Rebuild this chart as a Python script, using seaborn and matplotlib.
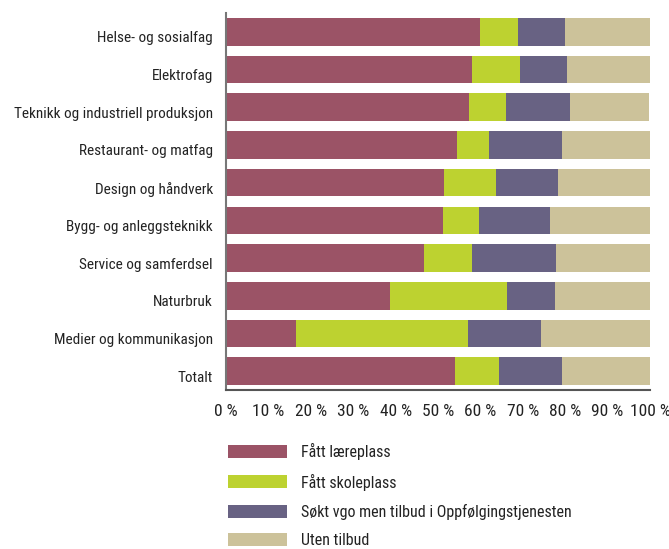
import re
import matplotlib
matplotlib.use("Agg")
import matplotlib.pyplot as plt
from matplotlib import font_manager as fm
from matplotlib import transforms
from matplotlib.patches import Patch
import numpy as np
import pandas as pd
import seaborn as sns

categories = [
    "Helse- og sosialfag",
    "Elektrofag",
    "Teknikk og industriell produksjon",
    "Restaurant- og matfag",
    "Design og håndverk",
    "Bygg- og anleggsteknikk",
    "Service og samferdsel",
    "Naturbruk",
    "Medier og kommunikasjon",
    "Totalt",
]
series = [
    "Fått læreplass",
    "Fått skoleplass",
    "Søkt vgo men tilbud i Oppfølgingstjenesten",
    "Uten tilbud",
]
laereplass = [59.9, 58.0, 57.3, 54.5, 51.4, 51.2, 46.7, 38.7, 16.5, 54.0]
skoleplass = [9.0, 11.3, 8.7, 7.5, 12.3, 8.5, 11.3, 27.6, 40.6, 10.4]
oppfolging = [11.1, 11.1, 15.1, 17.2, 14.6, 16.7, 19.8, 11.3, 17.2, 14.8]
uten_tilbud = [20.0, 19.6, 18.7, 20.8, 21.7, 23.6, 22.2, 22.4, 25.7, 20.8]
tick_labels = ["0 %", "10 %", "20 %", "30 %", "40 %", "50 %",
               "60 %", "70 %", "80 %", "90 %", "100 %"]

colors = ["#9b5366", "#bdd230", "#686283", "#ccc29a"]


def narrow_font():
    """Pick a condensed sans-serif face if one is installed."""
    patterns = [
        r"LiberationSansNarrow-Regular",
        r"RobotoCondensed-Regular",
        r"OpenSans[_-]?Condensed.*(Regular|Medium)",
        r"DejaVuSansCondensed\.ttf",
        r"NotoSans-?Condensed(-Regular)?\.",
        r"Condensed-Regular",
        r"Narrow-Regular",
    ]
    files = [f.fname for f in fm.fontManager.ttflist]
    files += fm.findSystemFonts()
    for pat in patterns:
        for path in files:
            if re.search(pat, path.split("/")[-1], re.I):
                return path
    return None


path = narrow_font()
sns.set_theme(style="white")
plt.rcParams["font.family"] = ["DejaVu Sans"]
if path:
    fp_y = fm.FontProperties(fname=path, size=11)
    fp_x = fm.FontProperties(fname=path, size=12.5)
    fp_leg = fm.FontProperties(fname=path, size=11.5)
else:
    fp_y = fm.FontProperties(family="DejaVu Sans", size=9.5)
    fp_x = fm.FontProperties(family="DejaVu Sans", size=10)
    fp_leg = fm.FontProperties(family="DejaVu Sans", size=10)

df = pd.DataFrame({
    "kategori": categories,
    series[0]: laereplass,
    series[1]: skoleplass,
    series[2]: oppfolging,
    series[3]: uten_tilbud,
})
cum = df[series].cumsum(axis=1)

fig = plt.figure(figsize=(6.69, 5.49), dpi=100)
ax = fig.add_axes([226 / 669, 1 - 390 / 549, 424 / 669, 377 / 549])

# stacked bars: draw the cumulative totals from the outermost segment inwards
for name, color in reversed(list(zip(series, colors))):
    sns.barplot(x=cum[name], y=df["kategori"], color=color, orient="h",
                width=0.73, saturation=1, ax=ax, linewidth=0)

ax.set_xlim(0, 100)
ax.set_ylim(9.5, -0.5)
ax.set_xticks(np.arange(0, 101, 10))
ax.set_xticklabels(tick_labels)
ax.tick_params(axis="y", length=0, pad=9.5)
ax.tick_params(axis="x", length=0, pad=10)
for lab in ax.get_xticklabels():
    lab.set_fontproperties(fp_x)
    lab.set_color("#222222")
shift_down = transforms.ScaledTranslation(0, -5 / 100, fig.dpi_scale_trans)
for lab in ax.get_yticklabels():
    lab.set_fontproperties(fp_y)
    lab.set_color("#222222")
    lab.set_transform(lab.get_transform() + shift_down)
ax.set_xlabel("")
ax.set_ylabel("")
for side in ["top", "right"]:
    ax.spines[side].set_visible(False)
ax.spines["left"].set_color("#777777")
ax.spines["left"].set_linewidth(1.5)
ax.spines["bottom"].set_color("#555555")
ax.spines["bottom"].set_linewidth(1.5)

handles = [Patch(facecolor=c, edgecolor="none", label=s) for s, c in zip(series, colors)]
leg = fig.legend(handles=handles, loc="upper left",
                 bbox_to_anchor=(222 / 669, 1 - 437 / 549),
                 frameon=False, prop=fp_leg,
                 handlelength=3.7, handleheight=0.875,
                 labelspacing=0.82, handletextpad=0.85, borderaxespad=0)
for t in leg.get_texts():
    t.set_color("#222222")

fig.savefig("out.png", dpi=100)
